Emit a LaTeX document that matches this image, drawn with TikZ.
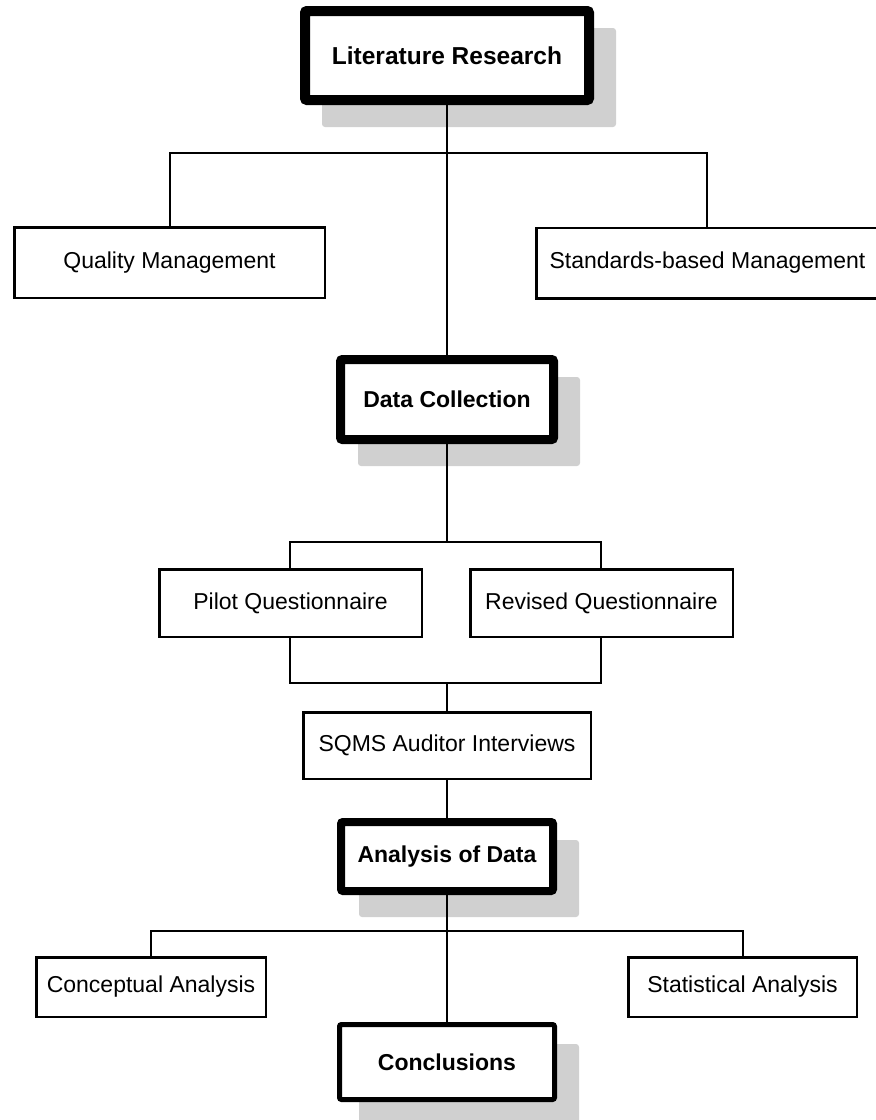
\documentclass[tikz,border=0pt]{standalone}
\usepackage{fontspec}
\setmainfont{Liberation Sans}
\usetikzlibrary{backgrounds}
\definecolor{shadowgray}{HTML}{D0D0D0}
\tikzset{
  box/.style={draw, fill=white, line width=2.5pt, inner sep=0pt,
    font=\fontsize{23}{27}\selectfont},
  keybox/.style={box, rounded corners=2pt,
    font=\fontsize{23}{27}\selectfont\bfseries},
  link/.style={line width=1.3pt},
  boxshadow/.style={fill=shadowgray, rounded corners=3pt},
}
% grey drop shadow behind a key step
\newcommand\keyshadow[1]{%
  \fill[boxshadow] ([shift={(22pt,-22pt)}]#1.north west) rectangle ([shift={(22pt,-22pt)}]#1.south east);}
\begin{document}
\begin{tikzpicture}[x=1pt,y=-1pt]
\useasboundingbox (0,0) rectangle (876,1120);

% key steps
\node[keybox, line width=10pt, minimum width=284pt, minimum height=89pt,
  font=\fontsize{24.5}{29}\selectfont\bfseries] (lit) at (447,55.5) {Literature Research};
\node[keybox, line width=9pt, minimum width=213pt, minimum height=80pt] (dc) at (447,399.5) {Data Collection};
\node[keybox, line width=8pt, minimum width=212pt, minimum height=69pt] (ana) at (447,856.5) {Analysis of Data};
\node[keybox, line width=5pt, minimum width=215pt, minimum height=75pt] (conc) at (447,1062) {Conclusions};

% sub-steps
\node[box, minimum width=310.5pt, minimum height=70.5pt] (qm) at (169.5,262.5) {Quality Management};
\node[box, minimum width=342.5pt, minimum height=70.5pt] (sbm) at (707.5,263) {Standards-based Management};
\node[box, minimum width=262.5pt, minimum height=67.5pt] (pilot) at (290.5,603) {Pilot Questionnaire};
\node[box, minimum width=262.5pt, minimum height=67.5pt] (rev) at (601.5,603) {Revised Questionnaire};
\node[box, minimum width=287.5pt, minimum height=66.5pt] (sqms) at (447,745.5) {SQMS Auditor Interviews};
\node[box, minimum width=229.5pt, minimum height=59.5pt] (ca) at (151,987) {Conceptual Analysis};
\node[box, minimum width=228.5pt, minimum height=59.5pt] (sa) at (742.5,987) {Statistical Analysis};

% junction points
\coordinate (f1) at (447,153);
\coordinate (f2) at (447,542);
\coordinate (f3) at (447,683);
\coordinate (f4) at (447,931);

\begin{scope}[on background layer]
  \keyshadow{lit}
  \keyshadow{dc}
  \keyshadow{ana}
  \keyshadow{conc}

  % connectors
  \draw[link] (lit) -- (dc);
  \draw[link] (qm.north -| 170,0) |- (f1) -| (sbm.north -| 707,0);
  \draw[link] (dc) -- (f2);
  \draw[link] (pilot.north -| 290,0) |- (f2) -| (rev.north -| 601,0);
  \draw[link] (pilot.south -| 290,0) |- (f3) -| (rev.south -| 601,0);
  \draw[link] (f3) -- (sqms);
  \draw[link] (sqms) -- (ana);
  \draw[link] (ana) -- (conc);
  \draw[link] (ca) |- (f4) -| (sa.north -| 743,0);
\end{scope}
\end{tikzpicture}
\end{document}
